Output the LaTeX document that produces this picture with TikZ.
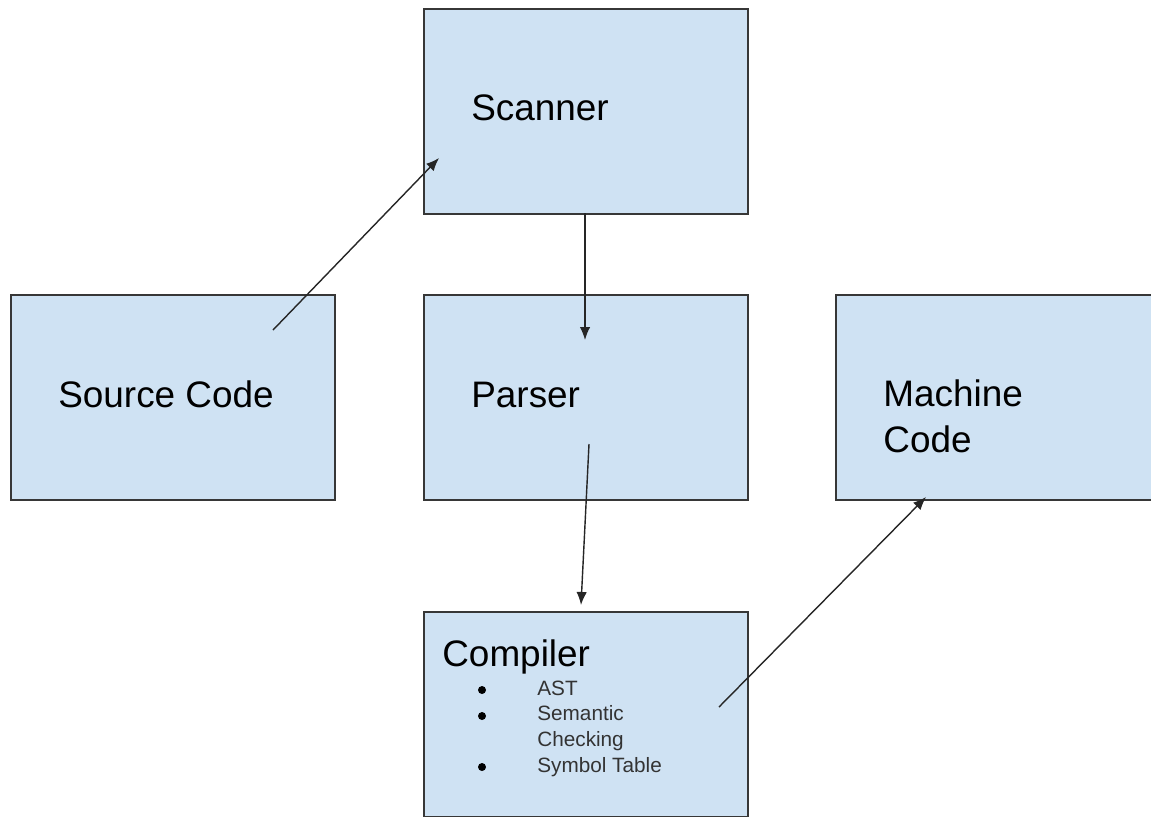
\documentclass[tikz,border=0pt]{standalone}
\usepackage{fontspec}
\setmainfont{Liberation Sans}
\usetikzlibrary{arrows.meta}
\definecolor{boxblue}{RGB}{207,226,243}
\definecolor{edgegray}{RGB}{55,55,55}
\begin{document}
\begin{tikzpicture}[x=0.02cm, y=-0.02cm,
    box/.style={draw=edgegray, line width=0.9pt, fill=boxblue, inner sep=0pt,
        minimum width=6.48cm, minimum height=4.1cm, anchor=north west},
    lbl/.style={anchor=base west, inner sep=0pt, align=left,
        font=\fontsize{21}{26}\selectfont},
    item/.style={anchor=base west, inner sep=0pt, align=left,
        font=\fontsize{11.8}{14.6}\selectfont, text=black!80},
    arr/.style={-{Latex[length=0.26cm,width=0.21cm]}, line width=0.8pt, black!85}]
    \clip (0,0) rectangle (1151,816);
    % Boxes
    \node[box] (scanner)  at (423,8)   {};
    \node[box] (source)   at (10,294)  {};
    \node[box] (parser)   at (423,294) {};
    \node[box] (machine)  at (835,294) {};
    \node[box] (compiler) at (423,611) {};
    % Labels (base of last line)
    \node[lbl] (scannerlbl)  at (471,120) {Scanner};
    \node[lbl] (sourcelbl)   at (58,407)  {Source Code};
    \node[lbl] (parserlbl)   at (471,407) {Parser};
    \node[lbl] (machinelbl)  at (883,452) {Machine\\Code};
    \node[lbl] (compilerlbl) at (442,666) {Compiler};
    % Bullet list
    \node[item] (items) at (537,772) {AST\\Semantic\\Checking\\Symbol Table};
    \foreach \yb in {690,716,767}
        \fill[black] (482,\yb) circle (0.08cm);
    % Arrows
    \coordinate (srcout)  at (273,330);
    \coordinate (scanin)  at (439,158);
    \coordinate (scanout) at (585,213);
    \coordinate (parsin)  at (585,340);
    \coordinate (parsout) at (589,444);
    \coordinate (compin)  at (581,605);
    \coordinate (compout) at (719,707);
    \coordinate (machin)  at (926,497);
    \draw[arr] (srcout) -- (scanin);
    \draw[arr] (scanout) -- (parsin);
    \draw[arr] (parsout) -- (compin);
    \draw[arr] (compout) -- (machin);
\end{tikzpicture}
\end{document}
